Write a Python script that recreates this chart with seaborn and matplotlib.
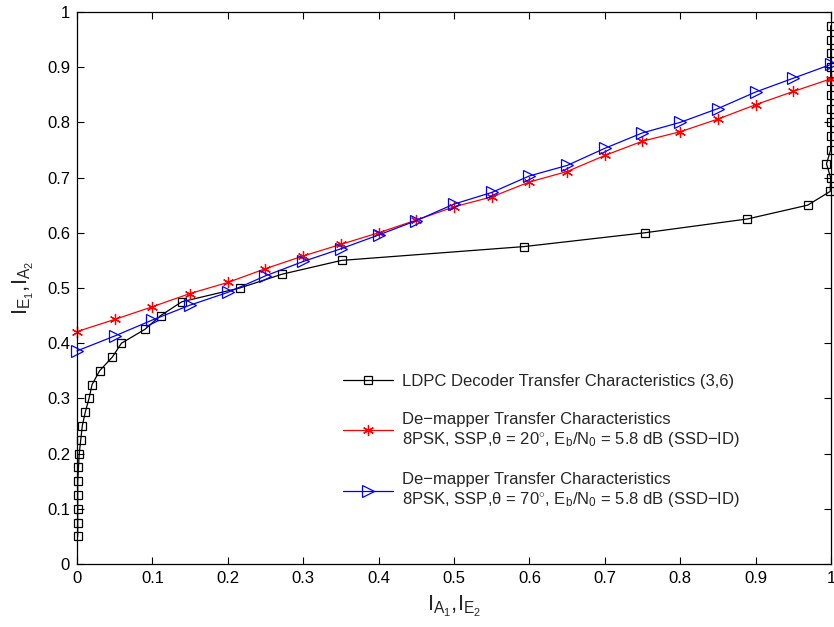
import matplotlib
matplotlib.use("Agg")
import matplotlib.pyplot as plt
import seaborn as sns
import numpy as np
import pandas as pd

# LDPC (3,6) decoder transfer curve (inverted axes: I_A1 on x, I_E1 on y)
ldpc_x = [0.001, 0.001, 0.001, 0.001, 0.001, 0.002, 0.003, 0.005, 0.007, 0.011,
          0.016, 0.020, 0.030, 0.047, 0.059, 0.090, 0.111, 0.139, 0.216, 0.272,
          0.351, 0.593, 0.753, 0.889, 0.969, 0.999, 0.9995, 0.994, 0.9995, 0.9995,
          0.9995, 0.9995, 0.9995, 0.9995, 0.9995, 0.9995, 0.9995, 0.9995]
ldpc_y = [0.050, 0.075, 0.100, 0.125, 0.150, 0.175, 0.200, 0.225, 0.250, 0.275,
          0.300, 0.325, 0.350, 0.375, 0.400, 0.425, 0.450, 0.475, 0.500, 0.525,
          0.550, 0.575, 0.600, 0.625, 0.650, 0.675, 0.700, 0.725, 0.750, 0.775,
          0.800, 0.825, 0.850, 0.875, 0.900, 0.925, 0.950, 0.975]

# De-mapper transfer curves, 8PSK SSP, Eb/N0 = 5.8 dB
ia = [0.0, 0.05, 0.1, 0.15, 0.2, 0.25, 0.3, 0.35, 0.4, 0.45, 0.5,
      0.55, 0.6, 0.65, 0.7, 0.75, 0.8, 0.85, 0.9, 0.95, 1.0]
ie_theta20 = [0.421, 0.443, 0.466, 0.490, 0.510, 0.535, 0.558, 0.579, 0.600, 0.623, 0.647,
              0.665, 0.692, 0.711, 0.740, 0.766, 0.783, 0.806, 0.832, 0.856, 0.879]
ie_theta70 = [0.386, 0.413, 0.442, 0.469, 0.492, 0.522, 0.548, 0.571, 0.596, 0.622, 0.652,
              0.673, 0.703, 0.722, 0.753, 0.781, 0.800, 0.825, 0.855, 0.880, 0.905]

labels = [
    "LDPC Decoder Transfer Characteristics (3,6)",
    "De\u2212mapper Transfer Characteristics\n"
    "8PSK, SSP,\u03b8 = 20$^{\\circ}$, E$_{b}$/N$_{0}$ = 5.8 dB (SSD\u2212ID)",
    "De\u2212mapper Transfer Characteristics\n"
    "8PSK, SSP,\u03b8 = 70$^{\\circ}$, E$_{b}$/N$_{0}$ = 5.8 dB (SSD\u2212ID)",
]

sns.set_theme(style="ticks")
plt.rcParams["font.family"] = ["Liberation Sans", "DejaVu Sans"]
plt.rcParams["mathtext.fontset"] = "custom"
plt.rcParams["mathtext.rm"] = "Liberation Sans"
plt.rcParams["mathtext.it"] = "Liberation Sans"
plt.rcParams["mathtext.sf"] = "Liberation Sans"
plt.rcParams["axes.unicode_minus"] = True

fig = plt.figure(figsize=(8.34, 6.27), dpi=100)
ax = fig.add_axes([0.0923, 0.1005, 0.9041, 0.8804])

df_ldpc = pd.DataFrame({"x": ldpc_x, "y": ldpc_y})
df20 = pd.DataFrame({"x": ia, "y": ie_theta20})
df70 = pd.DataFrame({"x": ia, "y": ie_theta70})

common = dict(ax=ax, sort=False, estimator=None, lw=0.9, clip_on=False)
sns.lineplot(data=df_ldpc, x="x", y="y", color="black", marker="s", markersize=6,
             markerfacecolor="none", markeredgecolor="black", markeredgewidth=0.9,
             label=labels[0], zorder=3, **common)
sns.lineplot(data=df20, x="x", y="y", color="red", marker=(6, 2, 0), markersize=8,
             markeredgecolor="red", markeredgewidth=0.9,
             label=labels[1], zorder=4, **common)
sns.lineplot(data=df70, x="x", y="y", color="blue", marker=">", markersize=9,
             markerfacecolor="none", markeredgecolor="blue", markeredgewidth=0.9,
             label=labels[2], zorder=5, **common)

ax.set_xlim(0, 1)
ax.set_ylim(0, 1)
ticks = np.round(np.arange(0, 1.01, 0.1), 1)
tick_text = ["0", "0.1", "0.2", "0.3", "0.4", "0.5", "0.6", "0.7", "0.8", "0.9", "1"]
ax.set_xticks(ticks)
ax.set_yticks(ticks)
ax.set_xticklabels(tick_text)
ax.set_yticklabels(tick_text)
ax.tick_params(direction="in", top=True, right=True, length=5, width=0.8,
               labelsize=12, colors="black", pad=5)
for s in ax.spines.values():
    s.set_linewidth(0.9)
    s.set_color("black")
    s.set_zorder(6)

ax.set_xlabel(r"I$_{A_1}$,I$_{E_2}$", fontsize=16, labelpad=6)
ax.set_ylabel(r"I$_{E_1}$,I$_{A_2}$", fontsize=16, labelpad=8)

leg = ax.legend(loc="upper left", bbox_to_anchor=(0.353, 0.345), frameon=False,
                fontsize=12, handlelength=3.0, handletextpad=0.55,
                labelspacing=1.4, borderaxespad=0, borderpad=0)

fig.savefig("out.png", dpi=100, facecolor="white")
